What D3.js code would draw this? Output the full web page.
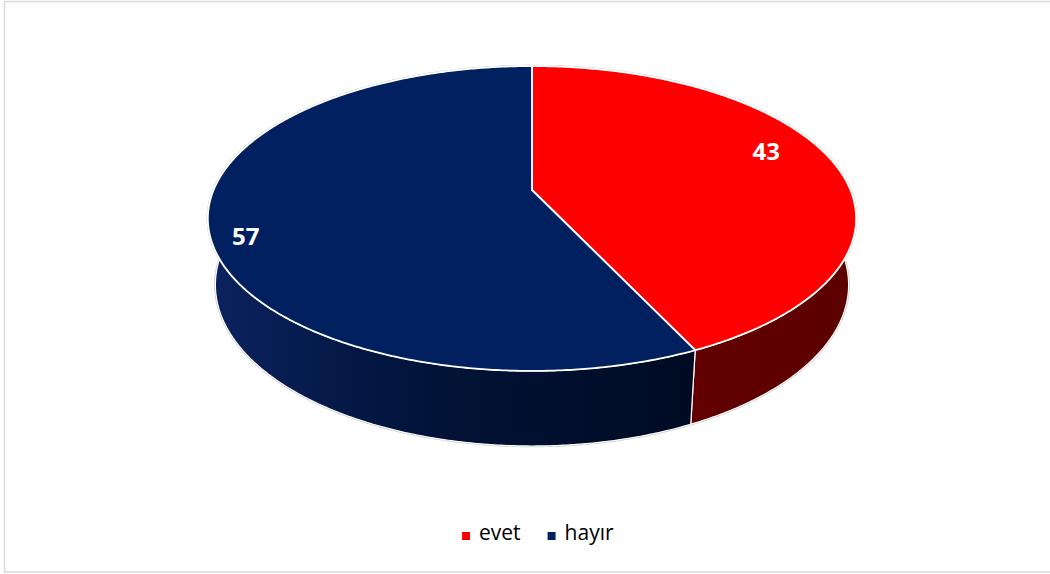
<!DOCTYPE html>
<html>
<head>
<meta charset="utf-8">
<title>3D Pie</title>
<script src="https://cdn.jsdelivr.net/npm/d3@7"></script>
<style>
  body { margin: 0; background: #fff; }
  text { font-family: "Open Sans", "Liberation Sans", sans-serif; }
</style>
</head>
<body>
<script>
// data
const categories = ["evet", "hayır"];
const values = [43, 57];
const topColors = ["#ff0000", "#002060"];

const width = 1050, height = 574;

// camera / perspective set-up (tilted disc seen from above)
const cx = 532, cy = 190;
const camDist = 4.745, focal = 1511;
const sinA = 0.462, cosA = Math.sqrt(1 - sinA * sinA);
const depth = 0.237;

// project a point on the disc: angle (clockwise from back), radius, level (0 top, -depth bottom)
function project(a, r, level) {
    let x = r * Math.sin(a), z = -r * Math.cos(a), y = level;
    let D = camDist - y * sinA - z * cosA;
    let U = y * cosA - z * sinA;
    return [cx + focal * x / D, cy - focal * U / D];
}

function arcPoints(a0, a1, level) {
    let n = Math.max(2, Math.ceil(Math.abs(a1 - a0) / (Math.PI / 360)));
    return d3.range(n + 1).map(function (i) {
        return project(a0 + (a1 - a0) * i / n, 1, level);
    });
}

const svg = d3.select("body").append("svg")
    .attr("width", width)
    .attr("height", height);

svg.append("rect")
    .attr("x", 4.5).attr("y", 1.5)
    .attr("width", 1050).attr("height", 570.5)
    .attr("fill", "#fff")
    .attr("stroke", "#d9d9d9")
    .attr("stroke-width", 1.5);

const defs = svg.append("defs");
let gBlue = defs.append("linearGradient").attr("id", "sideBlue")
    .attr("gradientUnits", "userSpaceOnUse")
    .attr("x1", 208).attr("x2", 700).attr("y1", 0).attr("y2", 0);
gBlue.append("stop").attr("offset", 0).attr("stop-color", "#0b225f");
gBlue.append("stop").attr("offset", 0.45).attr("stop-color", "#011338");
gBlue.append("stop").attr("offset", 1).attr("stop-color", "#000b22");
let gRed = defs.append("linearGradient").attr("id", "sideRed")
    .attr("gradientUnits", "userSpaceOnUse")
    .attr("x1", 690).attr("x2", 860).attr("y1", 0).attr("y2", 0);
gRed.append("stop").attr("offset", 0).attr("stop-color", "#620000");
gRed.append("stop").attr("offset", 1).attr("stop-color", "#5c0000");
const sideFills = ["url(#sideRed)", "url(#sideBlue)"];

const pie = d3.pie().sort(null).value(d => d);
const arcs = pie(values);
const line = d3.line();

const chart = svg.append("g");

// faint outline round the whole body
chart.append("path")
    .attr("d", line(arcPoints(0, 2 * Math.PI, 0).concat(arcPoints(2 * Math.PI, 0, -depth))) + "Z")
    .attr("fill", "none")
    .attr("stroke", "#c9c9c9")
    .attr("stroke-width", 2.5);

// sides
chart.selectAll("path.side")
    .data(arcs)
    .enter().append("path")
    .attr("class", "side")
    .attr("d", d => line(arcPoints(d.startAngle, d.endAngle, 0)
        .concat(arcPoints(d.endAngle, d.startAngle, -depth))) + "Z")
    .attr("fill", (d, i) => sideFills[i])
    .attr("stroke", "#fff")
    .attr("stroke-width", 1.2)
    .attr("stroke-linejoin", "round");

// top faces
chart.selectAll("path.top")
    .data(arcs)
    .enter().append("path")
    .attr("class", "top")
    .attr("d", d => line([project(0, 0, 0)].concat(arcPoints(d.startAngle, d.endAngle, 0))) + "Z")
    .attr("fill", (d, i) => topColors[i])
    .attr("stroke", "#fff")
    .attr("stroke-width", 1.8)
    .attr("stroke-linejoin", "round");

// data labels
const labelRadius = [0.82, 0.9];
const labelShift = -0.12;
chart.selectAll("text.lbl")
    .data(arcs)
    .enter().append("text")
    .attr("class", "lbl")
    .attr("x", (d, i) => project((d.startAngle + d.endAngle) / 2 + labelShift, labelRadius[i], 0)[0])
    .attr("y", (d, i) => project((d.startAngle + d.endAngle) / 2 + labelShift, labelRadius[i], 0)[1])
    .attr("text-anchor", "middle")
    .attr("dy", "0.36em")
    .attr("fill", "#fff")
    .attr("font-weight", "bold")
    .attr("font-size", 24)
    .text(d => d.data);

// legend
const legend = svg.append("g");
let items = legend.selectAll("g")
    .data(categories)
    .enter().append("g");
items.append("rect")
    .attr("width", 8).attr("height", 8)
    .attr("y", -8)
    .attr("fill", (d, i) => topColors[i]);
items.append("text")
    .attr("x", 17)
    .attr("y", 0)
    .attr("font-size", 21)
    .attr("fill", "#000")
    .text(d => d);
let xPos = 0;
items.each(function () {
    let w = this.getBBox().width;
    d3.select(this).attr("transform", "translate(" + xPos + ",0)");
    xPos += w + 27;
});
let total = xPos - 27;
legend.attr("transform", "translate(" + (538 - total / 2) + ",540)");
</script>
</body>
</html>
